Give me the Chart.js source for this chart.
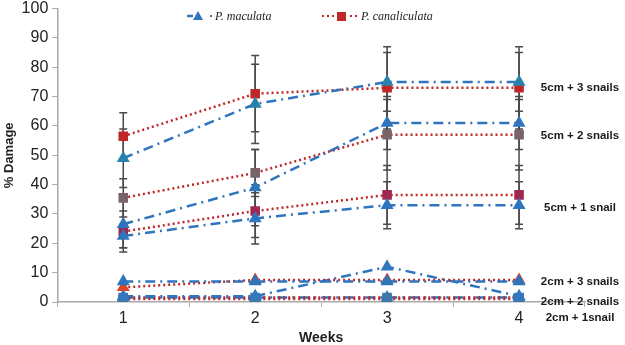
<!DOCTYPE html>
<html lang="en">
<head>
  <meta charset="UTF-8">
  <title>% Damage by week</title>
  <script src="https://cdn.jsdelivr.net/npm/chart.js"></script>
  <style>
    html, body { margin: 0; padding: 0; background: #fff; overflow: hidden; }
    .chart-container { width: 625px; height: 350px; position: relative; top: -5px; }
  </style>
</head>
<body>
  <div class="chart-container">
    <canvas id="damageChart"></canvas>
  </div>
  <script>
    // weeks on the x axis
    const weeks = ['1', '2', '3', '4'];

    // P. maculata (blue, dash-dot, triangles)
    const mac5cm3 = [49, 67.5, 75, 75];
    const mac5cm2 = [26.5, 39, 61, 61];
    const mac5cm1 = [22.5, 28.5, 33, 33];
    const mac2cm3 = [7, 7, 7, 7];
    const mac2cm2 = [2, 2, 12, 2];
    const mac2cm1 = [1.5, 1.5, 1.5, 1.5];

    // P. canaliculata (red, dotted, squares)
    const can5cm3 = [56.5, 71, 73, 73];
    const can5cm2 = [35.5, 44, 57, 57];
    const can5cm1 = [24, 31, 36.5, 36.5];
    const can2cm3 = [5, 7.5, 7.5, 7.5];
    const can2cm2 = [1.5, 1.5, 1.5, 1.5];
    const can2cm1 = [1, 1, 1, 1];

    // error bar half-widths (+/-)
    const errMac5cm3 = [10, 13.5, 10, 10];
    const errCan5cm3 = [8, 13, 14, 14];
    const errMac5cm2 = [8, 13, 9, 9];
    const errCan5cm2 = [6.5, 8, 12, 12];
    const errMac5cm1 = [4, 8.7, 8, 8];
    const errCan5cm1 = [7, 9, 10, 10];

    // treatment labels on the right, with the value they sit at
    const groupLabels = ['5cm + 3 snails', '5cm + 2 snails', '5cm + 1 snail', '2cm + 3 snails', '2cm + 2 snails', '2cm + 1snail'];
    const groupLabelValues = [73, 56.6, 32, 6.8, 0, -5.5];

    const blue = 'rgb(46, 117, 190)';
    const red = 'rgb(192, 40, 40)';

    function macSet(data, err, pointColor) {
      return {
        label: 'P. maculata', data: data, err: err,
        borderColor: blue, borderWidth: 2.5, borderDash: [10, 5, 2, 5],
        pointStyle: 'triangle', pointRadius: 5,
        pointBackgroundColor: pointColor || blue, pointBorderColor: pointColor || blue,
        fill: false, tension: 0
      };
    }
    function canSet(data, err, pointColor, style) {
      return {
        label: 'P. canaliculata', data: data, err: err,
        borderColor: red, borderWidth: 2.5, borderDash: [2, 3],
        pointStyle: style || 'rect', pointRadius: 5,
        pointBackgroundColor: pointColor || red, pointBorderColor: pointColor || red,
        fill: false, tension: 0
      };
    }

    const errorBars = {
      id: 'errorBars',
      beforeDatasetsDraw(chart) {
        const ctx = chart.ctx;
        const x = chart.scales.x, y = chart.scales.y;
        ctx.save();
        ctx.strokeStyle = '#4a4a4a';
        ctx.lineWidth = 1.5;
        chart.data.datasets.forEach(ds => {
          if (!ds.err) return;
          ds.data.forEach((v, i) => {
            const px = x.getPixelForValue(i);
            const top = y.getPixelForValue(v + ds.err[i]);
            const bot = y.getPixelForValue(v - ds.err[i]);
            ctx.beginPath();
            ctx.moveTo(px, top); ctx.lineTo(px, bot);
            ctx.moveTo(px - 4, top); ctx.lineTo(px + 4, top);
            ctx.moveTo(px - 4, bot); ctx.lineTo(px + 4, bot);
            ctx.stroke();
          });
        });
        ctx.restore();
      }
    };

    const sideLabels = {
      id: 'sideLabels',
      afterDraw(chart) {
        const ctx = chart.ctx;
        const y = chart.scales.y;
        ctx.save();
        ctx.font = 'bold 11.5px "Liberation Sans", Arial, sans-serif';
        ctx.fillStyle = '#1a1a1a';
        ctx.textAlign = 'center';
        ctx.textBaseline = 'middle';
        groupLabels.forEach((t, i) => {
          ctx.fillText(t, chart.chartArea.right - 5, y.getPixelForValue(groupLabelValues[i]));
        });

        // legend (canvas is shifted up 5px)
        const ly = 21;
        ctx.lineWidth = 2.5;
        ctx.strokeStyle = blue;
        ctx.beginPath(); ctx.moveTo(187, ly); ctx.lineTo(193, ly); ctx.stroke();
        ctx.fillStyle = blue;
        ctx.beginPath(); ctx.moveTo(198, ly - 5); ctx.lineTo(203, ly + 4); ctx.lineTo(193, ly + 4); ctx.closePath(); ctx.fill();
        ctx.fillRect(210, ly - 1, 2, 2);
        ctx.fillStyle = red;
        [322, 327, 332].forEach(px => ctx.fillRect(px, ly - 1, 2, 2));
        ctx.fillRect(337, ly - 4, 9, 9);
        [350, 355].forEach(px => ctx.fillRect(px, ly - 1, 2, 2));
        ctx.fillStyle = '#222';
        ctx.textAlign = 'left';
        ctx.font = 'italic 12px "Liberation Serif", "Times New Roman", serif';
        ctx.fillText('P. maculata', 215, ly + 1);
        ctx.fillText('P. canaliculata', 361, ly + 1);
        ctx.restore();
      }
    };

    new Chart(document.getElementById('damageChart').getContext('2d'), {
      type: 'line',
      data: {
        labels: weeks,
        datasets: [
          macSet(mac5cm3, errMac5cm3, 'rgb(40, 130, 170)'),
          canSet(can5cm3, errCan5cm3),
          macSet(mac5cm2, errMac5cm2),
          canSet(can5cm2, errCan5cm2, 'rgb(120, 100, 105)'),
          macSet(mac5cm1, errMac5cm1),
          canSet(can5cm1, errCan5cm1, 'rgb(160, 40, 80)'),
          macSet(mac2cm3),
          canSet(can2cm3, null, 'rgb(220, 70, 40)', 'triangle'),
          macSet(mac2cm2, null, 'rgb(50, 120, 190)'),
          canSet(can2cm2, null, 'rgb(60, 120, 170)'),
          macSet(mac2cm1),
          canSet(can2cm1)
        ]
      },
      options: {
        responsive: true,
        maintainAspectRatio: false,
        animation: false,
        layout: { padding: { top: 0, right: 40, bottom: -2, left: 2 } },
        plugins: { legend: { display: false }, tooltip: { enabled: false } },
        scales: {
          x: {
            offset: true,
            grid: { display: true, drawOnChartArea: false, offset: true, tickLength: 5, color: '#aaa' },
            border: { color: '#aaa', width: 1.5 },
            ticks: { color: '#222', font: { size: 16, family: 'Liberation Sans' }, padding: 2 },
            title: { display: true, text: 'Weeks', color: '#222', font: { size: 14, weight: 'bold', family: 'Liberation Sans' }, padding: 0 }
          },
          y: {
            min: 0, max: 100,
            grid: { display: true, drawOnChartArea: false, tickLength: 5, color: '#aaa' },
            border: { color: '#aaa', width: 1.5 },
            ticks: { stepSize: 10, color: '#222', font: { size: 16, family: 'Liberation Sans' }, padding: 4 },
            title: { display: true, text: '% Damage', color: '#222', font: { size: 13, weight: 'bold', family: 'Liberation Sans' }, padding: 0 }
          }
        }
      },
      plugins: [errorBars, sideLabels]
    });
  </script>
</body>
</html>
